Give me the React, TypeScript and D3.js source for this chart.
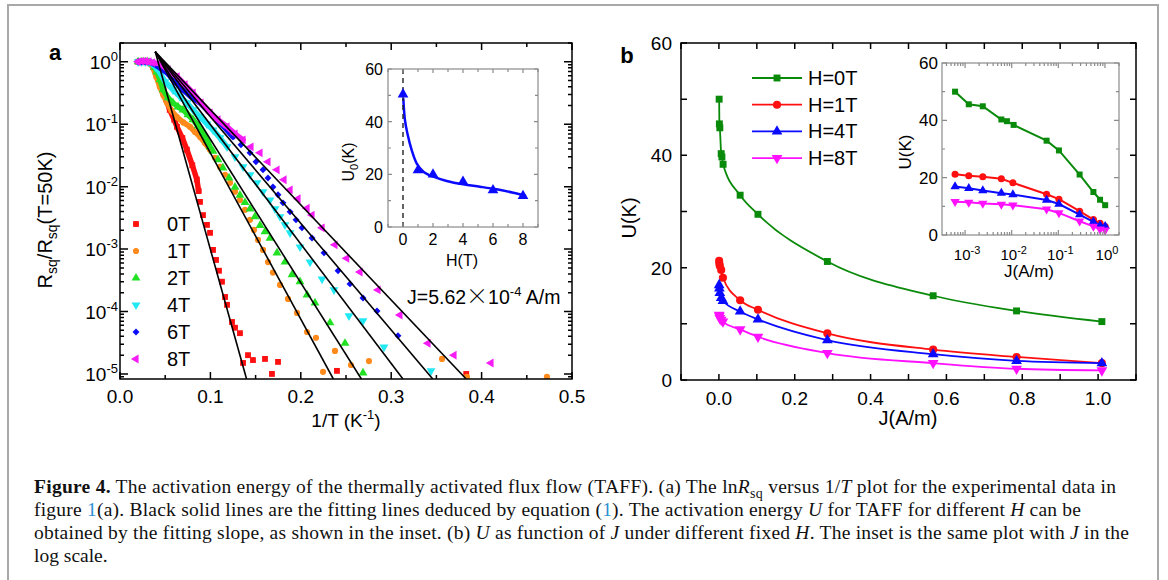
import React from 'react';
import * as d3 from 'd3';

// ---------- panel a : Rsq/Rsq(50K) vs 1/T ----------
const seriesA = ['0T', '1T', '2T', '4T', '6T', '8T'];
const colorA = ['#ff1010', '#ff8a1c', '#22e022', '#22e8f2', '#0c0cf5', '#f51cf5'];

// dense (overlapping) part of each curve, [1/T, R/R50]
const band0T = [[0.020, 1.0], [0.024, 1.0], [0.028, 1.0], [0.032, 0.98], [0.035, 0.94], [0.038, 0.87], [0.041, 0.80], [0.044, 0.55], [0.048, 0.36], [0.051, 0.25], [0.055, 0.17], [0.060, 0.118], [0.063, 0.091], [0.069, 0.060], [0.074, 0.039], [0.080, 0.022], [0.085, 0.013], [0.087, 8.5e-3]];
const band1T = [[0.020, 1.0], [0.024, 1.0], [0.028, 1.0], [0.032, 0.97], [0.0345, 0.90], [0.0365, 0.80], [0.040, 0.58], [0.044, 0.40], [0.048, 0.29], [0.052, 0.22], [0.057, 0.165], [0.063, 0.13], [0.070, 0.107], [0.0774, 0.091], [0.083, 0.075], [0.0885, 0.063], [0.094, 0.050], [0.0996, 0.039]];
const band2T = [[0.020, 1], [0.024, 1], [0.028, 1], [0.032, 0.98], [0.035, 0.93], [0.038, 0.82], [0.0409, 0.69], [0.0442, 0.515], [0.0476, 0.356], [0.0531, 0.265], [0.0586, 0.22], [0.0642, 0.19], [0.0697, 0.17], [0.0752, 0.142], [0.0808, 0.118], [0.0863, 0.094], [0.0918, 0.073], [0.0962, 0.056], [0.0996, 0.0434]];
const band4T = [[0.020, 1], [0.024, 1], [0.028, 1], [0.032, 0.99], [0.035, 0.95], [0.039, 0.83], [0.0442, 0.667], [0.0498, 0.48], [0.0586, 0.356], [0.0664, 0.275], [0.0741, 0.22], [0.0808, 0.17], [0.0885, 0.131], [0.0962, 0.101], [0.1029, 0.081], [0.1106, 0.0605], [0.1184, 0.0434]];
const band6T = [[0.020, 1], [0.024, 1], [0.028, 1], [0.032, 0.99], [0.035, 0.96], [0.040, 0.88], [0.044, 0.80], [0.052, 0.667], [0.0608, 0.48], [0.0697, 0.356], [0.0785, 0.275], [0.0885, 0.22], [0.0973, 0.164], [0.1073, 0.118], [0.1162, 0.0875], [0.125, 0.0628]];
const band8T = [[0.020, 1], [0.024, 1.02], [0.028, 1.02], [0.032, 1.0], [0.036, 0.97], [0.0442, 0.93], [0.0531, 0.745], [0.0631, 0.575], [0.0719, 0.428], [0.0808, 0.318], [0.0896, 0.22], [0.0996, 0.152], [0.1084, 0.118], [0.1184, 0.091], [0.1272, 0.070], [0.1361, 0.0562]];

// separate markers at low temperature
const pts0T = [[0.0885, 5.7e-3], [0.0918, 3.5e-3], [0.0962, 2.44e-3], [0.0996, 1.82e-3], [0.1029, 9.7e-4], [0.1062, 6.7e-4], [0.1095, 4.5e-4], [0.1128, 3.0e-4], [0.1162, 1.71e-4], [0.1184, 1.28e-4], [0.1239, 6.8e-5], [0.1272, 5.5e-5], [0.1327, 4.5e-5], [0.1361, 1.5e-5], [0.1416, 2.0e-5], [0.1471, 1.67e-5], [0.1604, 1.74e-5], [0.1681, 1.0e-5], [0.1748, 1.56e-5], [0.240, 1.12e-5], [0.383, 1.0e-5]];
const pts1T = [[0.1051, 0.029], [0.1106, 0.0207], [0.1162, 0.0155], [0.1217, 0.0115], [0.1272, 8.3e-3], [0.1327, 6.1e-3], [0.1383, 4.25e-3], [0.1438, 2.94e-3], [0.1482, 2.03e-3], [0.1527, 1.40e-3], [0.1582, 9.7e-4], [0.1637, 6.2e-4], [0.1692, 4.2e-4], [0.177, 2.67e-4], [0.1858, 1.59e-4], [0.1958, 9.5e-5], [0.2069, 4.7e-5], [0.2168, 3.8e-5], [0.2246, 1.08e-5], [0.2378, 2.34e-5], [0.2555, 1.39e-5], [0.2754, 1.61e-5], [0.3562, 1.74e-5], [0.3838, 9.0e-6], [0.4723, 9.0e-6]];
const pts2T = [[0.1029, 0.037], [0.1084, 0.027], [0.1139, 0.020], [0.1206, 0.0138], [0.1272, 0.0098], [0.1327, 7.3e-3], [0.1383, 5.6e-3], [0.1438, 4.4e-3], [0.1493, 3.3e-3], [0.1549, 2.4e-3], [0.1604, 1.9e-3], [0.1659, 1.5e-3], [0.1737, 8.7e-4], [0.1825, 6.2e-4], [0.1903, 3.9e-4], [0.1991, 3.0e-4], [0.2069, 1.85e-4], [0.2157, 1.37e-4], [0.2323, 6.6e-5], [0.2489, 3.1e-5], [0.2688, 1.04e-5]];
const pts4T = [[0.1272, 0.030], [0.1361, 0.0208], [0.1438, 0.0155], [0.1515, 0.0115], [0.1582, 8.3e-3], [0.1659, 6.1e-3], [0.1715, 4.4e-3], [0.177, 3.3e-3], [0.1825, 2.44e-3], [0.1881, 1.82e-3], [0.1991, 1.08e-3], [0.2102, 6.2e-4], [0.2235, 3.3e-4], [0.2367, 2.22e-4], [0.2533, 8.5e-5], [0.2688, 7.1e-5], [0.292, 2.7e-5], [0.344, 1.12e-5]];
const pts6T = [[0.1338, 0.0468], [0.1438, 0.0348], [0.1504, 0.025], [0.1582, 0.0186], [0.1637, 0.0138], [0.1692, 9.9e-3], [0.1748, 7.4e-3], [0.1803, 5.5e-3], [0.1881, 3.95e-3], [0.1947, 2.94e-3], [0.2013, 2.19e-3], [0.2124, 1.51e-3], [0.2257, 8.7e-4], [0.2412, 4.5e-4], [0.2544, 2.77e-4], [0.2688, 1.65e-4], [0.2843, 1.02e-4], [0.3075, 4.1e-5]];
const pts8T = [[0.1449, 0.0434], [0.1549, 0.0348], [0.1637, 0.025], [0.1737, 0.0186], [0.1814, 0.0129], [0.1881, 8.9e-3], [0.1969, 6.4e-3], [0.2069, 4.5e-3], [0.2124, 3.5e-3], [0.2235, 2.19e-3], [0.2378, 1.17e-3], [0.2508, 7.1e-4], [0.2655, 4.3e-4], [0.2854, 2.22e-4], [0.3097, 8.8e-5], [0.3407, 3.1e-5], [0.3695, 2.0e-5], [0.4104, 1.5e-5]];

const bandsA = [band0T, band1T, band2T, band4T, band6T, band8T];
const ptsA = [pts0T, pts1T, pts2T, pts4T, pts6T, pts8T];

// black fitting lines: common start, end on the lower axis
const fitStartA = [0.039, 1.45];
const fitEndA = [0.140, 0.236, 0.267, 0.313, 0.346, 0.383];
const fitFloorA = 8.3e-6;

// inset a : U0 vs H
const insetH = [0, 1, 2, 4, 6, 8];
const insetU0 = [50.4, 21.6, 20.0, 17.2, 14.0, 11.8];
const insetFitH = [0.02, 0.13, 0.29, 0.58, 0.91, 1.36, 2.02, 2.91, 4.02, 5.13, 6.24, 7.35, 8.2];
const insetFitU = [48.9, 40.6, 35.6, 29.2, 24.2, 21.0, 19.1, 17.5, 16.2, 15.3, 14.3, 13.0, 11.8];

// ---------- panel b : U vs J ----------
const seriesB = ['H=0T', 'H=1T', 'H=4T', 'H=8T'];
const colorB = ['#0a8a0a', '#ff1010', '#0a0aff', '#ff10ff'];
const jB0T = [6.1e-4, 1.2e-3, 2.4e-3, 6.0e-3, 7.9e-3, 0.011, 0.056, 0.103, 0.286, 0.565, 0.785, 1.01];
const jB = [6.1e-4, 1.2e-3, 2.4e-3, 6.0e-3, 0.0106, 0.056, 0.103, 0.286, 0.565, 0.785, 1.01];
const uB0T = [50.0, 45.6, 44.9, 40.3, 39.7, 38.4, 32.9, 29.5, 21.1, 15.0, 12.3, 10.4];
const uB1T = [21.2, 20.7, 20.3, 19.6, 18.2, 14.2, 12.5, 8.3, 5.4, 4.1, 3.0];
const uB4T = [16.9, 16.3, 15.5, 14.6, 14.1, 12.2, 10.8, 7.1, 4.6, 3.4, 3.0];
const uB8T = [11.6, 11.4, 11.0, 10.7, 10.4, 9.0, 7.7, 4.8, 3.0, 2.0, 1.7];
const jListB = [jB0T, jB, jB, jB];
const uListB = [uB0T, uB1T, uB4T, uB8T];

const decadesB = [-3, -2, -1, 0];

// ---------- helpers ----------
const SANS = 'Arial, "Liberation Sans", sans-serif';
const SERIF = '"Liberation Serif", "Times New Roman", serif';

const shapeA = [
  { t: d3.symbolSquare, s: 34, r: 0 },
  { t: d3.symbolCircle, s: 30, r: 0 },
  { t: d3.symbolTriangle, s: 34, r: 0 },
  { t: d3.symbolTriangle, s: 34, r: 180 },
  { t: d3.symbolSquare, s: 24, r: 45 },
  { t: d3.symbolTriangle, s: 34, r: -90 },
];
const shapeB = [
  { t: d3.symbolSquare, s: 48, r: 0 },
  { t: d3.symbolCircle, s: 52, r: 0 },
  { t: d3.symbolTriangle, s: 50, r: 0 },
  { t: d3.symbolTriangle, s: 50, r: 180 },
];

function Mark({ x, y, sh, fill, k = 1 }: any) {
  const d = d3.symbol().type(sh.t).size(sh.s * k)();
  return <path d={d || ''} transform={`translate(${x},${y}) rotate(${sh.r})`} fill={fill} />;
}

function Frame({ sx, sy, xt, yt, stroke = '#000', sw = 1.5 }: any) {
  const [xa, xb] = sx.range();
  const [ya, yb] = sy.range();
  return (
    <g stroke={stroke} strokeWidth={sw} fill="none">
      <rect x={xa} y={yb} width={xb - xa} height={ya - yb} />
      {xt.map(([v, len]: number[], i: number) => (
        <path key={'x' + i} d={`M${sx(v)},${ya}v${-len}M${sx(v)},${yb}v${len}`} />
      ))}
      {yt.map(([v, len]: number[], i: number) => (
        <path key={'y' + i} d={`M${xa},${sy(v)}h${len}M${xb},${sy(v)}h${-len}`} />
      ))}
    </g>
  );
}

const isDecade = (v: number) => Math.abs(Math.log10(v) - Math.round(Math.log10(v))) < 1e-6;

export default function App() {
  // panel a scales
  const xA = d3.scaleLinear().domain([0, 0.5]).range([120, 572]);
  const yA = d3.scaleLog().domain([8.3e-6, 2]).range([379, 43]);
  const xtA = d3.range(0, 0.5001, 0.05).map((v) => [v, Math.round(v * 20) % 2 === 0 ? 7 : 4]);
  const ytA = yA.ticks().map((v) => [v, isDecade(v) ? 8 : 4]);
  const bandLine = d3.line<number[]>().x((d) => xA(d[0])).y((d) => yA(d[1])).curve(d3.curveLinear);

  // inset a
  const xI = d3.scaleLinear().domain([-1, 9]).range([388, 538]);
  const yI = d3.scaleLinear().domain([0, 60]).range([227, 69]);
  const fitI = d3.line<number>().x((_, i) => xI(insetFitH[i])).y((d) => yI(d)).curve(d3.curveCatmullRom);

  // panel b
  const xB = d3.scaleLinear().domain([-0.1, 1.1]).range([681, 1136]);
  const yB = d3.scaleLinear().domain([0, 60]).range([380, 43]);
  const xtB = d3.range(-0.1, 1.1001, 0.1).map((v) => [v, 6]);
  const ytB = d3.range(0, 60.1, 10).map((v) => [v, 6]);

  // inset b
  const xJ = d3.scaleLog().domain([3.2e-4, 2]).range([942, 1119]);
  const yJ = d3.scaleLinear().domain([0, 60]).range([235, 63]);
  const xtJ = xJ.ticks().map((v) => [v, isDecade(v) ? 5 : 3]);
  const ytJ = d3.range(0, 60.1, 10).map((v) => [v, v % 20 === 0 ? 5 : 3]);

  return (
    <svg width={1168} height={580} style={{ position: 'absolute', left: 0, top: 0, background: '#fff' }} fontFamily={SANS}>
      <rect x={0} y={0} width={1168} height={580} fill="#fff" />
      <rect x={8} y={5} width={1150} height={600} fill="none" stroke="#a8a8a8" strokeWidth={2} />

      <defs>
        <clipPath id="clipA"><rect x={120} y={43} width={452} height={336} /></clipPath>
      </defs>

      {/* ----- panel a ----- */}
      <text x={55} y={60} fontSize={22} fontWeight="bold" textAnchor="middle">a</text>
      <g clipPath="url(#clipA)">
        {bandsA.map((b, i) => (
          <g key={'band' + i}>
            <path d={bandLine(b as any) || ''} fill="none" stroke={colorA[i]} strokeWidth={5.5} strokeLinejoin="round" strokeLinecap="round" />
            {b.map((d, k) => <Mark key={k} x={xA(d[0])} y={yA(d[1])} sh={shapeA[i]} fill={colorA[i]} />)}
          </g>
        ))}
        {ptsA.map((p, i) => (
          <g key={'pts' + i}>
            {p.map((d, k) => <Mark key={k} x={xA(d[0])} y={yA(d[1])} sh={shapeA[i]} fill={colorA[i]} />)}
          </g>
        ))}
        {fitEndA.map((e, i) => (
          <line key={'fit' + i} x1={xA(fitStartA[0])} y1={yA(fitStartA[1])} x2={xA(e)} y2={yA(fitFloorA)} stroke="#000" strokeWidth={1.6} />
        ))}
      </g>
      <Frame sx={xA} sy={yA} xt={xtA} yt={ytA} />
      {d3.range(0, 0.5001, 0.1).map((v) => (
        <text key={'xla' + v} x={xA(v)} y={403} fontSize={19} textAnchor="middle">{v.toFixed(1)}</text>
      ))}
      {d3.range(-5, 1).map((e) => (
        <text key={'yla' + e} x={118} y={yA(Math.pow(10, e)) + 7} fontSize={19} textAnchor="end">
          10<tspan dy={-8} fontSize={13}>{e}</tspan>
        </text>
      ))}
      <text x={346} y={427} fontSize={19} textAnchor="middle">
        1/T (K<tspan dy={-8} fontSize={13}>-1</tspan><tspan dy={8}>)</tspan>
      </text>
      <text transform="translate(52,220) rotate(-90)" fontSize={20} textAnchor="middle">
        R<tspan dy={5} fontSize={14}>sq</tspan><tspan dy={-5}>/R</tspan><tspan dy={5} fontSize={14}>sq</tspan><tspan dy={-5}>(T=50K)</tspan>
      </text>
      {seriesA.map((s, i) => (
        <g key={'lga' + i}>
          <Mark x={136} y={224 + i * 27} sh={shapeA[i]} fill={colorA[i]} />
          <text x={167} y={224 + i * 27 + 7} fontSize={20}>{s}</text>
        </g>
      ))}
      <text x={407} y={304} fontSize={19.5}>
        J=5.62<tspan fontFamily='"Noto Sans CJK SC"' fontWeight={300} fontSize={22}>×</tspan>10<tspan dy={-8} fontSize={13}>-4</tspan><tspan dy={8}> A/m</tspan>
      </text>

      {/* inset a */}
      <rect x={388} y={69} width={150} height={158} fill="#fff" />
      <path d={fitI(insetFitU) || ''} fill="none" stroke="#0a0aff" strokeWidth={2.5} />
      <line x1={xI(0)} x2={xI(0)} y1={yI(0)} y2={yI(60)} stroke="#222" strokeWidth={1.4} strokeDasharray="5,4" />
      {insetH.map((h, i) => (
        <Mark key={'ia' + i} x={xI(h)} y={yI(insetU0[i])} sh={{ t: d3.symbolTriangle, s: 50, r: 0 }} fill="#0a0aff" />
      ))}
      <Frame sx={xI} sy={yI} xt={d3.range(-1, 9.01, 1).map((v) => [v, v % 2 === 0 ? 4 : 3])} yt={d3.range(0, 60.1, 10).map((v) => [v, v % 20 === 0 ? 4 : 3])} stroke="#8a8a8a" sw={1.2} />
      {[0, 2, 4, 6, 8].map((v) => (
        <text key={'ixl' + v} x={xI(v)} y={245} fontSize={16} textAnchor="middle">{v}</text>
      ))}
      {[0, 20, 40, 60].map((v) => (
        <text key={'iyl' + v} x={383} y={yI(v) + 6} fontSize={16} textAnchor="end">{v}</text>
      ))}
      <text x={462} y={266} fontSize={16} textAnchor="middle">H(T)</text>
      <text transform="translate(354,162) rotate(-90)" fontSize={16} textAnchor="middle">
        U<tspan dy={4} fontSize={11}>0</tspan><tspan dy={-4}>(K)</tspan>
      </text>

      {/* ----- panel b ----- */}
      <text x={627} y={63} fontSize={22} fontWeight="bold" textAnchor="middle">b</text>
      {uListB.map((u, i) => {
        const js = jListB[i];
        const ln = d3.line<number>().x((_, k) => xB(js[k])).y((d) => yB(d)).curve(d3.curveMonotoneX);
        return (
          <g key={'mb' + i}>
            <path d={ln(u) || ''} fill="none" stroke={colorB[i]} strokeWidth={1.8} />
            {u.map((d, k) => <Mark key={k} x={xB(js[k])} y={yB(d)} sh={shapeB[i]} fill={colorB[i]} />)}
          </g>
        );
      })}
      <Frame sx={xB} sy={yB} xt={xtB} yt={ytB} />
      {d3.range(0, 1.001, 0.2).map((v) => (
        <text key={'xlb' + v} x={xB(v)} y={405} fontSize={19} textAnchor="middle">{v.toFixed(1)}</text>
      ))}
      {[0, 20, 40, 60].map((v) => (
        <text key={'ylb' + v} x={672} y={yB(v) + 7} fontSize={19} textAnchor="end">{v}</text>
      ))}
      <text x={908} y={425} fontSize={20} textAnchor="middle">J(A/m)</text>
      <text transform="translate(636,218) rotate(-90)" fontSize={20} textAnchor="middle">U(K)</text>
      {seriesB.map((s, i) => (
        <g key={'lgb' + i}>
          <line x1={752} x2={802} y1={78 + i * 26.7} y2={78 + i * 26.7} stroke={colorB[i]} strokeWidth={1.8} />
          <Mark x={777} y={78 + i * 26.7} sh={shapeB[i]} fill={colorB[i]} />
          <text x={808} y={78 + i * 26.7 + 7} fontSize={20}>{s}</text>
        </g>
      ))}

      {/* inset b */}
      <rect x={942} y={63} width={177} height={172} fill="#fff" />
      {uListB.map((u, i) => {
        const js = jListB[i];
        const ln = d3.line<number>().x((_, k) => xJ(js[k])).y((d) => yJ(d));
        return (
          <g key={'ib' + i}>
            <path d={ln(u) || ''} fill="none" stroke={colorB[i]} strokeWidth={2} />
            {u.map((d, k) => <Mark key={k} x={xJ(js[k])} y={yJ(d)} sh={shapeB[i]} fill={colorB[i]} k={0.75} />)}
          </g>
        );
      })}
      <Frame sx={xJ} sy={yJ} xt={xtJ} yt={ytJ} stroke="#8a8a8a" sw={1.2} />
      {decadesB.map((e) => (
        <text key={'ixb' + e} x={xJ(Math.pow(10, e)) + 2} y={260} fontSize={15} textAnchor="middle">
          10<tspan dy={-6} fontSize={11}>{e}</tspan>
        </text>
      ))}
      {[0, 20, 40, 60].map((v) => (
        <text key={'iyb' + v} x={938} y={yJ(v) + 6} fontSize={17} textAnchor="end">{v}</text>
      ))}
      <text x={1029} y={277} fontSize={17} textAnchor="middle">J(A/m)</text>
      <text transform="translate(911,152) rotate(-90)" fontSize={17} textAnchor="middle">U(K)</text>

      {/* ----- caption ----- */}
      <g fontFamily={SERIF} fontSize={19.5} fill="#111">
        <text x={34} y={493} textLength={1082} lengthAdjust="spacing">
          <tspan fontWeight="bold">Figure 4.</tspan> The activation energy of the thermally activated flux flow (TAFF). (a) The ln<tspan fontStyle="italic">R</tspan><tspan dy={5} fontSize={14}>sq</tspan><tspan dy={-5}> versus 1/</tspan><tspan fontStyle="italic">T</tspan> plot for the experimental data in
        </text>
        <text x={34} y={516} textLength={1047} lengthAdjust="spacing">
          figure <tspan fill="#2a8fd0">1</tspan>(a). Black solid lines are the fitting lines deduced by equation (<tspan fill="#2a8fd0">1</tspan>). The activation energy <tspan fontStyle="italic">U</tspan> for TAFF for different <tspan fontStyle="italic">H</tspan> can be
        </text>
        <text x={34} y={539} textLength={1095} lengthAdjust="spacing">
          obtained by the fitting slope, as shown in the inset. (b) <tspan fontStyle="italic">U</tspan> as function of <tspan fontStyle="italic">J</tspan> under different fixed <tspan fontStyle="italic">H</tspan>. The inset is the same plot with <tspan fontStyle="italic">J</tspan> in the
        </text>
        <text x={34} y={562}>log scale.</text>
      </g>
    </svg>
  );
}
